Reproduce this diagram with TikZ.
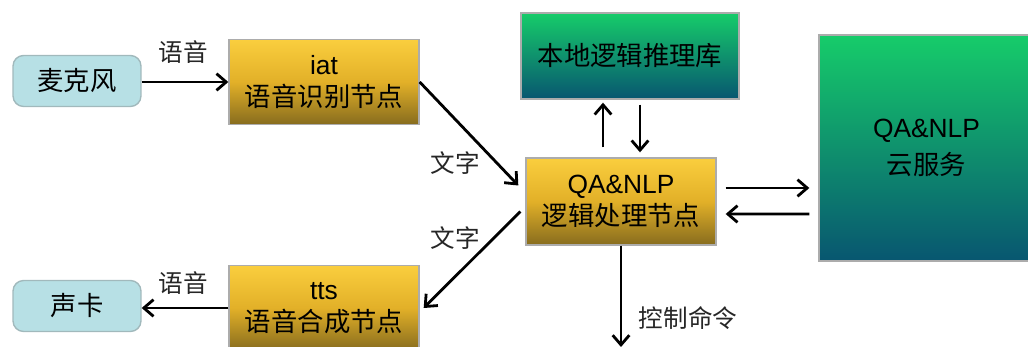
\documentclass[tikz,border=0pt]{standalone}
\usepackage{fontspec}
\setmainfont{Liberation Sans}
\newfontfamily\cjk{Noto Sans CJK SC}
\usetikzlibrary{arrows.meta}

\definecolor{goldtop}{RGB}{250,206,62}
\definecolor{goldmid}{RGB}{226,176,40}
\definecolor{goldbot}{RGB}{135,108,30}
\definecolor{greentop}{RGB}{22,204,106}
\definecolor{greenbot}{RGB}{8,86,112}
\definecolor{micblue}{RGB}{183,224,229}

\tikzset{
  basebox/.style={draw=gray!65, line width=0.8pt, align=center, inner sep=0pt,
    font=\fontsize{15}{18}\selectfont},
  devbox/.style={basebox, fill=micblue, draw=micblue!60!gray, rounded corners=6pt,
    minimum width=2.56cm, minimum height=1.02cm},
  goldbox/.style={basebox, top color=goldtop, bottom color=goldbot, middle color=goldmid,
    minimum width=3.8cm},
  greenbox/.style={basebox, top color=greentop, bottom color=greenbot},
  lbl/.style={font=\cjk\fontsize{14}{16}\selectfont, text=black!85, inner sep=0pt},
  arr/.style={line width=1.6pt, -{Straight Barb[length=5.5pt,width=9.5pt]}}
}

\begin{document}
\begin{tikzpicture}[x=0.02cm,y=-0.02cm]
\useasboundingbox (0,0) rectangle (1028,347);

% devices
\node (mic) [devbox] at (77,81) {\cjk 麦克风};
\node (card) [devbox] at (77,306) {\cjk 声卡};

% nodes
\node (iat) [goldbox, minimum height=1.7cm] at (324,82) {iat\\\cjk 语音识别节点};
\node (tts) [goldbox, minimum height=1.7cm] at (324,308) {tts\\\cjk 语音合成节点};
\node (qa) [goldbox, minimum height=1.74cm] at (621,201.5) {QA\&NLP\\\cjk 逻辑处理节点};
\node (lib) [greenbox, minimum width=4.36cm, minimum height=1.72cm] at (630,56) {\cjk 本地逻辑推理库};
\node (cloud) [greenbox, minimum width=4.3cm, minimum height=4.52cm,
  font=\fontsize{15}{21}\selectfont] at (926.5,148) {QA\&NLP\\\cjk 云服务};
\coordinate (ctrl) at (621,347);

% connectors
\draw [arr] (mic.east |- iat.west) -- (iat.west);
\draw [arr] (tts.west) -- (tts.west -| card.east);
\draw [arr] (iat.east) -- ([shift={(-7,-16)}]qa.west);
\draw [arr] ([shift={(-5,10)}]qa.west) -- ([shift={(4,0)}]tts.east);
\draw [arr] ([shift={(-18,-10)}]qa.north) -- ([shift={(-27,3)}]lib.south);
\draw [arr] ([shift={(10,5)}]lib.south) -- ([shift={(19,-5)}]qa.north);
\draw [arr] ([shift={(9,-13.5)}]qa.east) -- ([shift={(-9,40)}]cloud.west);
\draw [arr] ([shift={(-9,66)}]cloud.west) -- ([shift={(9,12.5)}]qa.east);
\draw [arr] (qa.south) -- (ctrl);

% labels
\node (l1) [lbl] at (183,52) {语音};
\node (l2) [lbl] at (183,283) {语音};
\node (l3) [lbl] at (455,163) {文字};
\node (l4) [lbl] at (455,238) {文字};
\node (l5) [lbl] at (688,318) {控制命令};
\end{tikzpicture}
\end{document}
